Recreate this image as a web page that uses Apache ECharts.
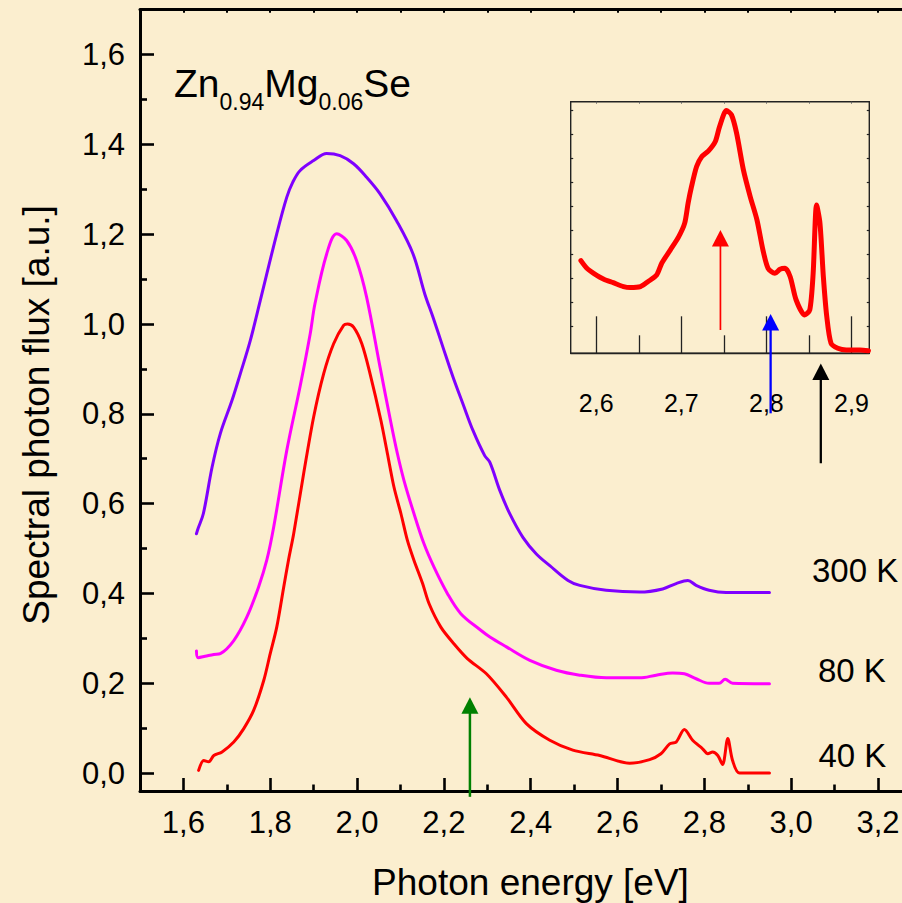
<!DOCTYPE html>
<html>
<head>
<meta charset="utf-8">
<script src="https://cdn.jsdelivr.net/npm/echarts@6/dist/echarts.min.js"></script>
<style>
  html, body { margin: 0; padding: 0; background: #FBEECF; }
  #chart { width: 902px; height: 903px; }
</style>
</head>
<body>
<div id="chart"></div>
<script>
// Photoluminescence spectra of Zn0.94Mg0.06Se (photon energy in eV, flux in a.u., curves offset)
const energy300 = [1.630,1.634,1.646,1.666,1.685,1.712,1.731,1.754,1.777,1.815,1.838,1.852,1.869,1.900,1.930,1.961,1.992,2.022,2.053,2.091,2.129,2.156,2.175,2.198,2.221,2.244,2.267,2.294,2.306,2.329,2.352,2.382,2.413,2.444,2.486,2.513,2.574,2.651,2.704,2.735,2.762,2.781,2.811,2.850,2.950];
const flux300   = [0.533,0.545,0.578,0.681,0.756,0.830,0.889,0.963,1.052,1.201,1.282,1.316,1.342,1.364,1.380,1.375,1.357,1.327,1.290,1.230,1.156,1.067,1.015,0.948,0.882,0.822,0.763,0.707,0.692,0.629,0.577,0.525,0.488,0.462,0.429,0.418,0.407,0.403,0.410,0.422,0.429,0.418,0.407,0.402,0.402];

const energy80 = [1.630,1.634,1.650,1.670,1.685,1.716,1.746,1.773,1.792,1.808,1.838,1.869,1.892,1.903,1.930,1.953,1.976,1.999,2.022,2.053,2.077,2.093,2.108,2.131,2.154,2.177,2.208,2.239,2.285,2.306,2.344,2.398,2.459,2.513,2.574,2.651,2.689,2.727,2.754,2.781,2.811,2.834,2.848,2.865,2.950];
const flux80   = [0.272,0.257,0.260,0.264,0.266,0.295,0.347,0.414,0.474,0.548,0.718,0.862,0.978,1.045,1.156,1.201,1.186,1.141,1.060,0.904,0.785,0.711,0.652,0.578,0.511,0.459,0.400,0.355,0.318,0.303,0.281,0.251,0.229,0.218,0.212,0.212,0.218,0.223,0.221,0.210,0.200,0.200,0.209,0.200,0.199];

const energy40 = [1.635,1.647,1.658,1.670,1.689,1.716,1.739,1.762,1.785,1.800,1.815,1.831,1.842,1.854,1.877,1.900,1.923,1.946,1.969,1.978,1.992,2.011,2.030,2.055,2.070,2.085,2.101,2.116,2.131,2.151,2.166,2.193,2.223,2.254,2.298,2.344,2.390,2.444,2.497,2.559,2.628,2.674,2.700,2.720,2.735,2.754,2.773,2.796,2.808,2.819,2.831,2.842,2.854,2.865,2.881,2.950];
const flux40   = [0.006,0.028,0.025,0.039,0.047,0.069,0.099,0.140,0.206,0.266,0.325,0.414,0.474,0.533,0.667,0.793,0.889,0.956,0.997,1.000,0.993,0.956,0.889,0.785,0.711,0.637,0.578,0.518,0.474,0.422,0.377,0.325,0.288,0.255,0.221,0.169,0.110,0.073,0.051,0.039,0.022,0.030,0.043,0.065,0.069,0.097,0.073,0.054,0.043,0.047,0.039,0.019,0.077,0.028,0.000,0.000];

// Inset: 40 K spectrum near the band edge (normalised)
const energyInset = [2.582,2.589,2.597,2.609,2.620,2.632,2.640,2.652,2.661,2.671,2.677,2.687,2.697,2.704,2.708,2.712,2.718,2.724,2.732,2.740,2.745,2.753,2.759,2.765,2.773,2.781,2.789,2.796,2.802,2.810,2.816,2.822,2.828,2.835,2.845,2.851,2.855,2.859,2.863,2.867,2.871,2.876,2.884,2.894,2.910,2.920];
const fluxInset   = [0.375,0.343,0.322,0.297,0.283,0.267,0.263,0.267,0.288,0.315,0.364,0.419,0.475,0.531,0.614,0.683,0.767,0.808,0.832,0.871,0.933,1.000,0.982,0.906,0.753,0.642,0.544,0.419,0.343,0.322,0.339,0.343,0.308,0.211,0.149,0.169,0.322,0.607,0.531,0.308,0.142,0.031,0.010,0.003,0.003,0.000];

// Arrows marking transition energies: [energy, tail, tip]
const mainArrowEnergy = [2.26];
const mainArrowTail   = [-0.053];
const mainArrowTip    = [0.169];
const insetArrowEnergy = [2.746, 2.805, 2.864];
const insetArrowTail   = [0.086, -0.261, -0.469];
const insetArrowTip    = [0.503, 0.153, -0.053];

// Tick positions
const xMajorTicks = [1.6, 1.8, 2.0, 2.2, 2.4, 2.6, 2.8, 3.0, 3.2];
const xMinorTicks = [1.7, 1.9, 2.1, 2.3, 2.5, 2.7, 2.9, 3.1];
const xTopTicks   = [1.6, 1.7, 1.8, 1.9, 2.0, 2.1, 2.2, 2.3, 2.4, 2.5, 2.6, 2.7, 2.8, 2.9, 3.0, 3.1, 3.2];
const yMajorTicks = [0.0, 0.2, 0.4, 0.6, 0.8, 1.0, 1.2, 1.4, 1.6];
const yMinorTicks = [0.1, 0.3, 0.5, 0.7, 0.9, 1.1, 1.3, 1.5];
const insetXMajor = [2.6, 2.7, 2.8, 2.9];
const insetXMinor = [2.65, 2.75, 2.85];
const insetXTop   = [2.6, 2.65, 2.7, 2.75, 2.8, 2.85, 2.9];
const insetYTicks = [0.1, 0.2, 0.3, 0.4, 0.5, 0.6, 0.7, 0.8, 0.9, 1.0];

// Text
const curveLabels = ['300 K', '80 K', '40 K'];
const titleParts = [['Zn', false], ['0.94', true], ['Mg', false], ['0.06', true], ['Se', false]];

const FONT = '"Liberation Sans", Arial, sans-serif';
const zip = (xs, ys) => xs.map((x, i) => [x, ys[i]]);
const comma = v => v.toFixed(1).replace('.', ',');

const chart = echarts.init(document.getElementById('chart'), null, { renderer: 'svg' });

function arrowRenderer(colors, widths) {
  return function (params, api) {
    const e = api.value(0);
    const tail = api.coord([e, api.value(1)]);
    const tip = api.coord([e, api.value(2)]);
    const headH = 16.5, headW = 17;
    const color = colors[params.dataIndex];
    return {
      type: 'group',
      children: [
        { type: 'line', shape: { x1: tail[0], y1: tail[1], x2: tip[0], y2: tip[1] + headH - 1 },
          style: { stroke: color, lineWidth: widths[params.dataIndex] } },
        { type: 'polygon', shape: { points: [[tip[0], tip[1]], [tip[0] - headW / 2, tip[1] + headH], [tip[0] + headW / 2, tip[1] + headH]] },
          style: { fill: color } }
      ]
    };
  };
}

// Title with subscripts, laid out from measured widths
const measureCtx = document.createElement('canvas').getContext('2d');
function textWidth(str, size) {
  measureCtx.font = size + 'px ' + FONT;
  return measureCtx.measureText(str).width;
}
const titleElements = [];
let cursor = 174;
titleParts.forEach(([str, sub]) => {
  const size = sub ? 23 : 39;
  titleElements.push({
    type: 'text', x: cursor, y: sub ? 101.5 : 83.5,
    style: { text: str, font: size + 'px ' + FONT, fill: '#000', textAlign: 'left',
             textVerticalAlign: 'middle', verticalAlign: 'middle' }
  });
  cursor += textWidth(str, size);
});

const labelPos = [[812, 570.5], [818, 670.5], [818.5, 755.5]];
const curveLabelElements = curveLabels.map((t, i) => ({
  type: 'text', x: labelPos[i][0], y: labelPos[i][1],
  style: { text: t, font: '33px ' + FONT, fill: '#000', textAlign: 'left',
           textVerticalAlign: 'middle', verticalAlign: 'middle' }
}));

const axisBase = {
  type: 'value', splitLine: { show: false }
};

function spectrum(name, xi, yi, xs, ys, color, width, smooth) {
  return {
    type: 'line', name: name, xAxisIndex: xi, yAxisIndex: yi, data: zip(xs, ys),
    showSymbol: false, symbol: 'none', smooth: smooth, clip: false,
    lineStyle: { color: color, width: width, cap: 'round', join: 'round' }
  };
}

chart.setOption({
  backgroundColor: '#FBEECF',
  animation: false,
  grid: [
    { left: 140, top: 9.7, width: 781.4, height: 781.3, outerBoundsMode: 'none', containLabel: false },
    { left: 570.7, top: 101.7, width: 298.6, height: 251.6, outerBoundsMode: 'none', containLabel: false,
      show: true, borderColor: '#222', borderWidth: 1.4, backgroundColor: 'transparent' }
  ],
  xAxis: [
    Object.assign({}, axisBase, {
      gridIndex: 0, position: 'bottom', min: 1.5, max: 3.3,
      axisLine: { show: true, onZero: false, lineStyle: { color: '#000', width: 3 } },
      axisTick: { show: true, inside: true, length: 13, customValues: xMajorTicks, lineStyle: { color: '#000', width: 2.6 } },
      axisLabel: { show: true, customValues: xMajorTicks, margin: 16, color: '#000', fontSize: 31, fontFamily: FONT, formatter: comma }
    }),
    Object.assign({}, axisBase, {
      gridIndex: 0, position: 'bottom', min: 1.5, max: 3.3,
      axisLine: { show: false, onZero: false },
      axisTick: { show: true, inside: true, length: 6.5, customValues: xMinorTicks, lineStyle: { color: '#000', width: 2.6 } },
      axisLabel: { show: false }
    }),
    Object.assign({}, axisBase, {
      gridIndex: 0, position: 'top', min: 1.5, max: 3.3,
      axisLine: { show: true, onZero: false, lineStyle: { color: '#000', width: 3 } },
      axisTick: { show: true, inside: true, length: 3, customValues: xTopTicks, lineStyle: { color: '#000', width: 2 } },
      axisLabel: { show: false }
    }),
    Object.assign({}, axisBase, {
      gridIndex: 1, position: 'bottom', min: 2.57, max: 2.921,
      axisLine: { show: true, onZero: false, lineStyle: { color: '#222', width: 1.4 } },
      axisTick: { show: true, inside: true, length: 37, customValues: insetXMajor, lineStyle: { color: '#222', width: 1.3 } },
      axisLabel: { show: true, customValues: insetXMajor, margin: 37, color: '#000', fontSize: 25, fontFamily: FONT, formatter: comma }
    }),
    Object.assign({}, axisBase, {
      gridIndex: 1, position: 'bottom', min: 2.57, max: 2.921,
      axisLine: { show: false, onZero: false },
      axisTick: { show: true, inside: true, length: 18, customValues: insetXMinor, lineStyle: { color: '#222', width: 1.3 } },
      axisLabel: { show: false }
    }),
    Object.assign({}, axisBase, {
      gridIndex: 1, position: 'top', min: 2.57, max: 2.921,
      axisLine: { show: false, onZero: false },
      axisTick: { show: true, inside: true, length: 2, customValues: insetXTop, lineStyle: { color: '#666', width: 1 } },
      axisLabel: { show: false }
    })
  ],
  yAxis: [
    Object.assign({}, axisBase, {
      gridIndex: 0, position: 'left', min: -0.04, max: 1.7,
      axisLine: { show: true, onZero: false, lineStyle: { color: '#000', width: 3 } },
      axisTick: { show: true, inside: true, length: 14, customValues: yMajorTicks, lineStyle: { color: '#000', width: 2.6 } },
      axisLabel: { show: true, customValues: yMajorTicks, margin: 15, color: '#000', fontSize: 31, fontFamily: FONT, formatter: comma }
    }),
    Object.assign({}, axisBase, {
      gridIndex: 0, position: 'left', min: -0.04, max: 1.7,
      axisLine: { show: false, onZero: false },
      axisTick: { show: true, inside: true, length: 7, customValues: yMinorTicks, lineStyle: { color: '#000', width: 2.6 } },
      axisLabel: { show: false }
    }),
    Object.assign({}, axisBase, {
      gridIndex: 1, position: 'left', min: -0.011, max: 1.037,
      axisLine: { show: false, onZero: false },
      axisTick: { show: true, inside: true, length: 2.5, customValues: insetYTicks, lineStyle: { color: '#222', width: 1.2 } },
      axisLabel: { show: false }
    }),
    Object.assign({}, axisBase, {
      gridIndex: 1, position: 'right', min: -0.011, max: 1.037,
      axisLine: { show: false, onZero: false },
      axisTick: { show: true, inside: true, length: 2.5, customValues: insetYTicks, lineStyle: { color: '#222', width: 1.2 } },
      axisLabel: { show: false }
    })
  ],
  series: [
    spectrum('300 K', 0, 0, energy300, flux300, '#7F00FF', 3, 0.35),
    spectrum('80 K', 0, 0, energy80, flux80, '#FF00FF', 3, 0.35),
    spectrum('40 K', 0, 0, energy40, flux40, '#FF0000', 3, 0.3),
    spectrum('40 K inset', 3, 2, energyInset, fluxInset, '#FF0000', 5, 0.25),
    { type: 'custom', xAxisIndex: 0, yAxisIndex: 0, clip: false, silent: true,
      encode: { x: 0, y: [1, 2] },
      data: mainArrowEnergy.map((e, i) => [e, mainArrowTail[i], mainArrowTip[i]]),
      renderItem: arrowRenderer(['#008000'], [2.5]) },
    { type: 'custom', xAxisIndex: 3, yAxisIndex: 2, clip: false, silent: true,
      encode: { x: 0, y: [1, 2] },
      data: insetArrowEnergy.map((e, i) => [e, insetArrowTail[i], insetArrowTip[i]]),
      renderItem: arrowRenderer(['#FF0000', '#0000FF', '#000000'], [1.7, 2.3, 2.3]) }
  ],
  graphic: titleElements.concat(curveLabelElements, [
    { type: 'text', x: 36.5, y: 415, rotation: Math.PI / 2,
      style: { text: 'Spectral photon flux [a.u.]', font: '37px ' + FONT, fill: '#000',
               textAlign: 'center', textVerticalAlign: 'middle', verticalAlign: 'middle' } },
    { type: 'text', x: 530.5, y: 882,
      style: { text: 'Photon energy [eV]', font: '37px ' + FONT, fill: '#000',
               textAlign: 'center', textVerticalAlign: 'middle', verticalAlign: 'middle' } }
  ])
});
</script>
</body>
</html>
